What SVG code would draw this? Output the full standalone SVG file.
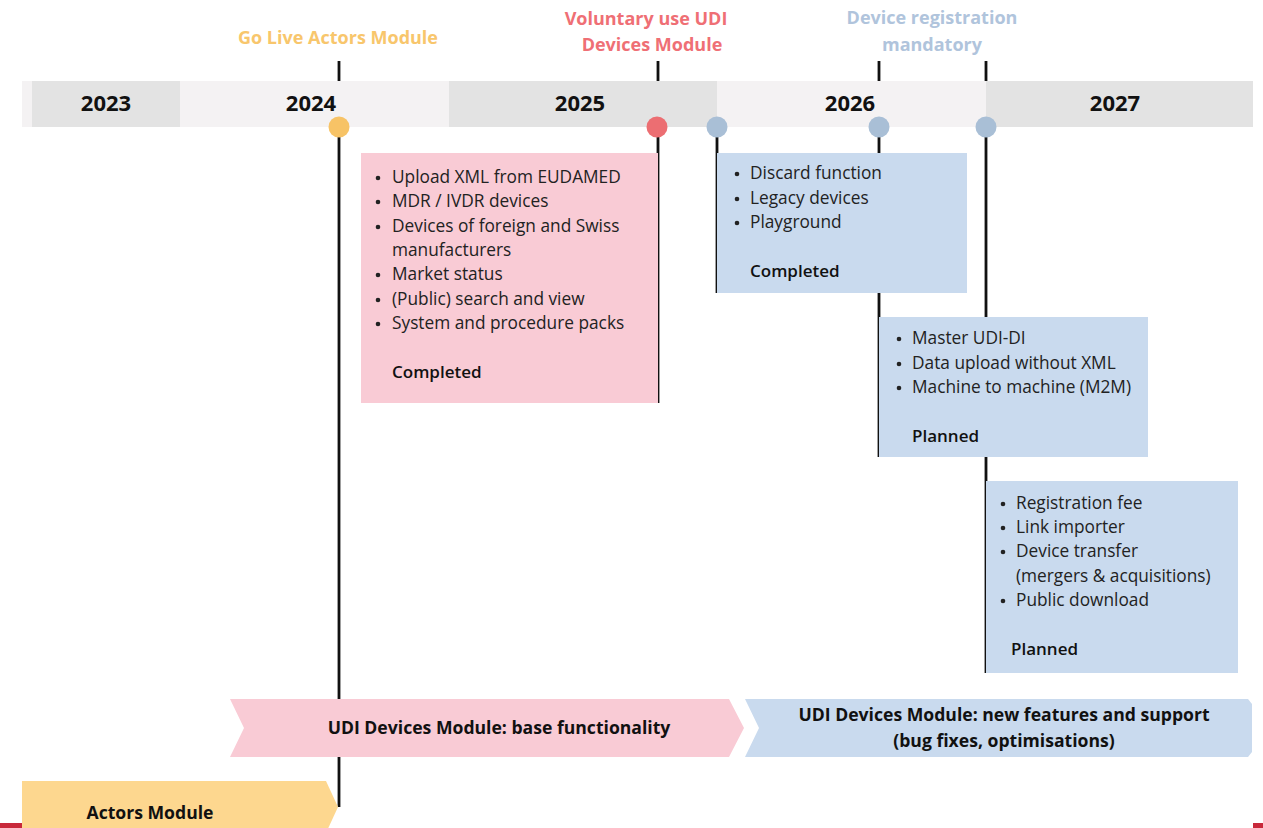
<svg xmlns="http://www.w3.org/2000/svg" width="1263" height="828" viewBox="0 0 1263 828">
<style>
text{font-family:"Open Sans","Noto Sans","Liberation Sans",sans-serif;}
.yr{font-size:22px;font-weight:700;fill:#111;text-anchor:middle;}
.hd{font-size:18px;font-weight:700;text-anchor:middle;}
.it{font-size:17.3px;fill:#222;}
.st{font-size:17px;font-weight:600;fill:#111;}
.ar{font-size:17.6px;font-weight:700;fill:#111;text-anchor:middle;}
.ln{stroke:#111;stroke-width:2.8;fill:none;}
.pink{fill:#f9cbd5;}
.blue{fill:#c9daee;}
.bu{fill:#222;}
</style>
<rect width="1263" height="828" fill="#fff"/>
<g id="timeline">
<rect x="22" y="81" width="1231" height="46" fill="#f4f2f3"/>
<rect x="32" y="81" width="148" height="46" fill="#e3e3e3"/>
<rect x="449" y="81" width="268" height="46" fill="#e3e3e3"/>
<rect x="986" y="81" width="267" height="46" fill="#e3e3e3"/>
<text class="yr" x="106" y="111">2023</text>
<text class="yr" x="311" y="111">2024</text>
<text class="yr" x="580" y="111">2025</text>
<text class="yr" x="850" y="111">2026</text>
<text class="yr" x="1115" y="111">2027</text>
</g>
<g id="connectors">
<line class="ln" x1="339" y1="61" x2="339" y2="81"/>
<line class="ln" x1="658" y1="61" x2="658" y2="81"/>
<line class="ln" x1="879" y1="61" x2="879" y2="81"/>
<line class="ln" x1="986" y1="61" x2="986" y2="81"/>
<line class="ln" x1="339" y1="127" x2="339" y2="807"/>
<line class="ln" x1="658" y1="127" x2="658" y2="403"/>
<line class="ln" x1="717" y1="127" x2="717" y2="293"/>
<line class="ln" x1="879" y1="127" x2="879" y2="457"/>
<line class="ln" x1="986" y1="127" x2="986" y2="673"/>
</g>
<g id="milestones">
<circle cx="339" cy="127" r="10.5" fill="#f7c366"/>
<circle cx="657" cy="127" r="10.5" fill="#ec6e72"/>
<circle cx="717" cy="127" r="10.5" fill="#a9bfd6"/>
<circle cx="879" cy="127" r="10.5" fill="#a9bfd6"/>
<circle cx="986" cy="127" r="10.5" fill="#a9bfd6"/>
</g>
<g id="label-golive">
<text class="hd" x="338" y="44" fill="#f8c66c">Go Live Actors Module</text>
</g>
<g id="label-voluntary">
<text class="hd" x="646" y="25" fill="#ef6f75">Voluntary use UDI</text>
<text class="hd" x="652" y="51" fill="#ef6f75">Devices Module</text>
</g>
<g id="label-mandatory">
<text class="hd" x="932" y="24" fill="#b0c4dc">Device registration</text>
<text class="hd" x="932" y="51" fill="#b0c4dc">mandatory</text>
</g>
<g id="box-base">
<rect class="pink" x="361" y="153" width="297" height="250"/>
<g class="bu">
<circle cx="378" cy="178" r="2.3"/><circle cx="378" cy="202" r="2.3"/><circle cx="378" cy="227" r="2.3"/>
<circle cx="378" cy="275" r="2.3"/><circle cx="378" cy="300" r="2.3"/><circle cx="378" cy="324" r="2.3"/>
</g>
<g class="it">
<text x="392" y="183">Upload XML from EUDAMED</text>
<text x="392" y="207">MDR / IVDR devices</text>
<text x="392" y="232">Devices of foreign and Swiss</text>
<text x="392" y="256">manufacturers</text>
<text x="392" y="280">Market status</text>
<text x="392" y="305">(Public) search and view</text>
<text x="392" y="329">System and procedure packs</text>
</g>
<text class="st" x="392" y="378">Completed</text>
</g>
<g id="box-2026a">
<rect class="blue" x="717" y="153" width="250" height="140"/>
<g class="bu">
<circle cx="737" cy="174" r="2.3"/><circle cx="737" cy="199" r="2.3"/><circle cx="737" cy="223" r="2.3"/>
</g>
<g class="it">
<text x="750" y="179">Discard function</text>
<text x="750" y="204">Legacy devices</text>
<text x="750" y="228">Playground</text>
</g>
<text class="st" x="750" y="277">Completed</text>
</g>
<g id="box-2026b">
<rect class="blue" x="879" y="317" width="269" height="140"/>
<g class="bu">
<circle cx="899" cy="339" r="2.3"/><circle cx="899" cy="364" r="2.3"/><circle cx="899" cy="388" r="2.3"/>
</g>
<g class="it">
<text x="912" y="344">Master UDI-DI</text>
<text x="912" y="369">Data upload without XML</text>
<text x="912" y="393">Machine to machine (M2M)</text>
</g>
<text class="st" x="912" y="442">Planned</text>
</g>
<g id="box-2027">
<rect class="blue" x="986" y="481" width="252" height="192"/>
<g class="bu">
<circle cx="1003" cy="504" r="2.3"/><circle cx="1003" cy="528" r="2.3"/><circle cx="1003" cy="552" r="2.3"/><circle cx="1003" cy="601" r="2.3"/>
</g>
<g class="it">
<text x="1016" y="509">Registration fee</text>
<text x="1016" y="533">Link importer</text>
<text x="1016" y="557">Device transfer</text>
<text x="1016" y="582">(mergers &amp; acquisitions)</text>
<text x="1016" y="606">Public download</text>
</g>
<text class="st" x="1011" y="655">Planned</text>
</g>
<g id="arrow-base">
<polygon class="pink" points="230,699 729,699 744,728 729,757 230,757 244,728"/>
<text class="ar" x="499" y="734">UDI Devices Module: base functionality</text>
</g>
<g id="arrow-new">
<polygon class="blue" points="745,699 1248,699 1252,704 1252,752 1248,757 745,757 759,728"/>
<text class="ar" x="1004" y="721">UDI Devices Module: new features and support</text>
<text class="ar" x="1004" y="747">(bug fixes, optimisations)</text>
</g>
<g id="arrow-actors">
<polygon points="22,781 326,781 338,807 326,833 22,833" fill="#fdd78f"/>
<text class="ar" x="150" y="819">Actors Module</text>
</g>
<rect x="0" y="823" width="22" height="5" fill="#c8283a"/>
<rect x="1253" y="823" width="10" height="5" fill="#c8283a"/>
</svg>
